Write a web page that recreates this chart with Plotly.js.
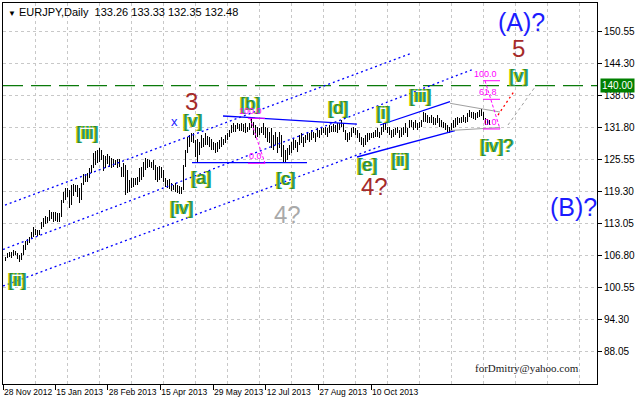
<!DOCTYPE html>
<html><head><meta charset="utf-8">
<script src="https://cdn.plot.ly/plotly-3.0.1.min.js"></script>
<style>html,body{margin:0;padding:0;background:#fff}#chart{width:636px;height:404px}</style>
</head><body><div id="chart"></div>
<script>
const symbol = "EURJPY,Daily";
const lastOpen = 133.26, lastClose = 132.48;

const highs = [
106.58,107.23,107.55,107.42,107.88,107.68,107.23,106.90,107.23,108.86,
109.64,110.03,110.48,111.46,112.44,111.98,111.79,111.79,113.28,114.06,
114.52,114.39,115.69,115.24,115.37,115.24,115.04,115.04,117.65,119.27,
119.92,120.05,119.60,120.58,120.71,120.58,120.58,119.92,120.90,122.66,
122.66,122.85,123.83,124.48,126.76,127.22,127.41,127.74,127.41,126.43,
126.30,126.56,126.30,125.78,125.65,125.46,125.65,125.65,124.16,124.81,
124.47,123.50,121.54,121.87,121.87,121.87,122.20,123.82,124.15,125.13,
125.78,125.58,125.45,125.13,125.45,124.47,124.15,124.28,124.15,123.50,
121.87,121.54,121.68,120.89,120.57,120.89,120.57,120.37,120.11,124.47,
127.40,130.01,130.33,130.79,130.66,129.36,129.49,129.03,130.33,129.68,
130.66,130.14,129.88,129.49,129.03,128.71,129.03,129.36,129.88,129.49,
130.33,130.66,131.31,132.29,132.61,132.29,132.74,132.48,132.61,132.48,
132.62,131.97,132.62,133.72,132.94,132.29,131.97,131.64,131.97,132.62,
131.97,131.64,130.99,131.64,130.34,130.99,130.01,130.99,130.34,128.38,
127.41,127.73,128.38,129.04,129.69,129.36,129.04,130.34,130.66,130.01,
130.34,130.99,130.66,131.31,130.99,130.66,131.64,131.31,131.97,131.64,
131.97,131.64,132.29,132.16,132.42,132.29,132.62,132.62,133.27,132.62,
131.31,130.66,130.99,131.64,131.97,131.64,131.31,130.66,130.01,129.69,
130.34,130.66,130.79,130.66,130.99,131.31,131.64,130.99,131.97,132.62,
132.94,131.97,131.97,131.31,131.44,131.64,131.97,131.31,131.64,131.97,
132.62,131.64,133.27,133.27,132.94,133.27,132.62,132.94,133.27,134.90,
134.57,134.24,133.92,134.24,133.92,133.59,134.24,133.59,133.27,132.94,
132.62,132.29,131.97,132.62,133.27,133.59,133.92,133.59,133.92,134.24,
133.92,134.57,135.22,134.90,134.90,134.57,134.90,135.22,135.35,134.90,
133.59,133.40,133.33];

const lows = [
105.73,106.25,106.58,106.38,106.77,106.90,106.12,105.60,105.93,106.90,
107.88,108.86,109.18,110.03,110.48,110.81,110.68,110.81,111.98,112.44,
112.89,113.09,113.54,113.93,113.41,113.54,113.28,113.28,114.39,116.99,
117.65,118.30,116.15,116.67,118.49,119.14,118.30,116.99,117.65,120.58,
121.23,121.10,122.01,122.85,123.83,124.48,124.81,125.13,125.46,123.31,
123.83,124.61,124.16,123.83,124.16,124.48,123.83,124.16,122.20,122.20,
118.62,118.94,119.27,119.92,120.24,120.57,120.57,121.22,121.54,122.20,
123.50,123.82,124.15,123.82,123.50,121.54,121.22,121.54,121.87,121.22,
120.11,119.92,119.72,119.46,119.59,119.27,118.94,118.81,118.75,119.59,
124.15,126.75,128.06,129.03,128.71,126.10,124.80,126.43,127.73,128.06,
128.38,128.38,128.06,127.40,127.40,126.75,127.08,127.53,128.06,128.38,
128.71,129.36,130.01,130.66,130.99,130.99,131.44,131.18,131.18,130.99,
130.66,130.99,131.31,131.64,130.34,129.69,130.01,130.34,130.66,130.34,
129.69,129.04,128.71,127.73,127.41,128.38,126.76,127.73,126.11,124.80,
125.13,125.45,126.43,126.76,127.41,127.73,127.08,128.38,128.71,128.06,
128.71,129.36,129.04,129.36,129.69,129.04,130.01,129.69,130.34,130.66,
130.34,130.01,130.66,130.99,130.86,130.99,130.66,131.31,131.97,130.99,
129.36,129.04,129.36,130.01,130.66,130.34,129.69,129.04,128.38,128.06,
128.38,129.04,129.36,129.69,129.69,130.01,130.01,129.69,130.34,130.99,
131.31,130.66,130.34,129.69,130.01,130.34,130.66,129.69,130.01,130.34,
130.66,130.01,131.64,131.97,131.31,131.64,131.31,131.64,131.97,132.94,
132.94,132.62,132.62,132.62,132.29,132.29,132.62,131.97,131.97,131.64,
131.31,130.99,130.79,130.99,131.64,131.97,132.29,132.62,132.62,132.94,
132.75,132.94,133.79,133.59,133.40,133.27,133.59,133.92,134.05,133.27,
132.29,132.29,132.35];

const priceTicks = [88.05,94.30,100.55,106.80,113.05,119.30,125.55,131.80,138.05,144.30,150.55];
const dateLabels = ["28 Nov 2012","15 Jan 2013","28 Feb 2013","15 Apr 2013","29 May 2013","12 Jul 2013","27 Aug 2013","10 Oct 2013"];
const dateBars = [-1,25.15,51.35,77.65,104,130.35,156.65,183];
const levelPrice = 140.00;

// trend/channel lines: [barStart, barEnd], [priceStart, priceEnd]
const chanUpperX = [0, 203.5],   chanUpperY = [116.66, 146.35];
const chanMidX = [-1, 234],      chanMidY = [107.97, 143.17];
const chanLowX = [-1, 187.5],    chanLowY = [100.84, 128.09];
const lineAX = [93.5, 151],      lineAY = [124.93, 124.93];
const lineBDX = [109, 176],      lineBDY = [134.05, 132.48];
const lineI3X = [187.5, 222.5],  lineI3Y = [132.29, 136.84];
const lineE4X = [176, 225],      lineE4Y = [126.04, 131.21];
const triUpX = [222.5, 247.5],   triUpY = [136.53, 134.83];
const triLowX = [222.5, 247.5],  triLowY = [131.21, 131.80];
const grayProjX = [251.5, 265],  grayProjY = [132.29, 139.71];
const redProjX = [246.5, 255],   redProjY = [134.24, 139.12];

const fib1X = [121.5, 130], fib1Levels = ["100.0","0.0"], fib1Prices = [133.60, 124.81];
const fib2X = [239, 247.5], fib2Levels = ["100.0","61.8","0.0"], fib2Prices = [140.94, 137.31, 131.51];

const waveText = ["3","x","[v]","[iii]","[ii]","[iv]","[a]","[b]","[c]","4?","[d]","[e]","4?","[i]","[ii]","[iii]","[iv]?","[v]","5","(A)?","(B)?"];
const waveBar  = [93,84.5,93.5,41,6,88,98,122.5,140,141,166.5,181,184.5,189,197.5,207.5,245.5,256.5,256.5,258,284];
const wavePrice= [136.9,133.07,133.07,130.73,102.0,116.08,121.94,136.39,121.74,114.9,135.61,124.48,120.37,134.63,125.45,137.95,128.19,141.86,147.33,152.4,116.27];
const waveKind = ["big","x","min","min","min","min","min","min","min","gray","min","min","big","min","min","min","min","min","big","prim","prim"];

const FONT = "Liberation Sans, Arial, sans-serif";
const idx = highs.map((_, i) => i);
const traces = [];
traces.push({type:"bar", x: idx, base: lows, y: highs.map((h,i)=>h-lows[i]), width:0.5,
  marker:{color:"#000", line:{width:0}}, hoverinfo:"skip", xaxis:"x", yaxis:"y"});
function ln(x, y, color, dash, w){ traces.push({type:"scatter", mode:"lines", x:x, y:y, line:{color:color, dash:dash, width:w||1}, hoverinfo:"skip", xaxis:"x", yaxis:"y"}); }
ln(chanUpperX, chanUpperY, "#0000ff", "2px,3px", 1.3);
ln(chanMidX, chanMidY, "#0000ff", "2px,3px", 1.3);
ln(chanLowX, chanLowY, "#0000ff", "2px,3px", 1.3);
ln(lineAX, lineAY, "#0000ff", "solid", 1.3);
ln(lineBDX, lineBDY, "#0000ff", "solid", 1.3);
ln(lineI3X, lineI3Y, "#0000ff", "solid", 1.3);
ln(lineE4X, lineE4Y, "#0000ff", "solid", 1.3);
ln(triUpX, triUpY, "#a0a0a0", "solid", 1);
ln(triLowX, triLowY, "#a0a0a0", "solid", 1);
ln(grayProjX, grayProjY, "#a0a0a0", "3px,3px", 1);
ln(redProjX, redProjY, "#ff0000", "2px,3px", 1.3);
function fib(xr, prices){
  prices.forEach(p => ln(xr, [p, p], "#ff00ff", "solid", 1));
  ln([xr[0]+1, xr[1]], [prices[0], prices[prices.length-1]], "#ff00ff", "3px,2px", 1);
}
fib(fib1X, fib1Prices); fib(fib2X, fib2Prices);
traces.push({type:"scatter", x:[], y:[], xaxis:"x2", yaxis:"y", showlegend:false});

const ann = [];
const kindStyle = {
  big: {size:24, color:"#a52a2a"},
  gray: {size:24, color:"#a9a9a9"},
  prim: {size:25, color:"#1c1cff"},
  x: {size:13, color:"#2020ff"},
  min: {size:18, color:"#2e8b2e", shadow:"-1px 0px 0px #d8d800, 1px 0px 0px #20b0b0"}
};
waveText.forEach((t,i)=>{
  const s = kindStyle[waveKind[i]];
  const f = {family:FONT, size:s.size, color:s.color};
  if (s.shadow) f.shadow = s.shadow;
  ann.push({x:waveBar[i], y:wavePrice[i], xref:"x", yref:"y", text:t, showarrow:false, font:f, xanchor:"center", yanchor:"middle"});
});
function fibLabels(xr, levels, prices){
  levels.forEach((l,i)=> ann.push({x:xr[1]-0.75, y:prices[i], xref:"x", yref:"y", text:l, showarrow:false,
    font:{family:FONT, size:9, color:"#ff00ff"}, xanchor:"right", yanchor:"bottom", yshift:0}));
}
fibLabels(fib1X, fib1Levels, fib1Prices);
fibLabels(fib2X, fib2Levels, fib2Prices);
ann.push({x:1, xref:"paper", y:levelPrice, yref:"y", text:levelPrice.toFixed(2), showarrow:false, xanchor:"left", xshift:3,
  bgcolor:"#008000", borderpad:1, font:{family:FONT, size:10, color:"#fff"}});
const last = highs.length-1;
ann.push({x:0, xref:"paper", y:1, yref:"paper", xanchor:"left", yanchor:"top", xshift:3, yshift:-1, showarrow:false,
  text:'<span style="font-size:8px">▼</span> ' + symbol + '  ' + [lastOpen, highs[last], lows[last], lastClose].map(v=>v.toFixed(2)).join(' '),
  font:{family:FONT, size:11, color:"#000"}});
ann.push({x:0.882, xref:"paper", y:0.042, yref:"paper", xanchor:"center", yanchor:"middle", showarrow:false,
  text:"forDmitry@yahoo.com", font:{family:"Liberation Serif, Times New Roman, serif", size:11, color:"#1a1a1a"}});

const layout = {
  width:636, height:404, margin:{l:3, r:39, t:3, b:20},
  paper_bgcolor:"#fff", plot_bgcolor:"#fff", showlegend:false, bargap:0,
  xaxis:{range:[-1,296], tickmode:"array", tickvals:dateBars, ticktext:dateLabels, ticks:"outside", ticklen:5, tickcolor:"#000",
    tickangle:0, showgrid:false, zeroline:false, showline:true, linecolor:"#000", mirror:true, ticklabelposition:"outside right",
    tickfont:{family:FONT, size:8.5, color:"#000"}, fixedrange:true},
  xaxis2:{overlaying:"x", matches:"x", tickmode:"linear", tick0:15.35, dtick:16, showgrid:true, gridcolor:"#c8c8c8",
    griddash:"3px,3px", showticklabels:false, ticks:"", zeroline:false, showline:false},
  yaxis:{side:"right", range:[81.70,156.12], tickmode:"array", tickvals:priceTicks, ticktext:priceTicks.map(v=>v.toFixed(2)),
    ticks:"outside", ticklen:4, tickcolor:"#000", showgrid:true, gridcolor:"#c8c8c8", griddash:"3px,3px",
    showline:true, linecolor:"#000", mirror:true, zeroline:false, tickfont:{family:FONT, size:10, color:"#000"}, fixedrange:true},
  shapes:[{type:"line", xref:"paper", x0:0, x1:1, yref:"y", y0:levelPrice, y1:levelPrice, line:{color:"#0a7a0a", width:1.3, dash:"20px,8px"}, layer:"below"}],
  annotations: ann
};
Plotly.newPlot("chart", traces, layout, {staticPlot:true, displayModeBar:false});
</script></body></html>
